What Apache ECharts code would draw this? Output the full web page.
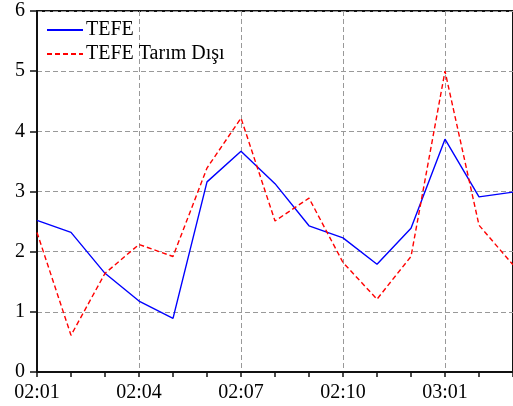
<!DOCTYPE html>
<html><head><meta charset="utf-8">
<script src="https://cdn.jsdelivr.net/npm/echarts@6/dist/echarts.min.js"></script>
<style>html,body{margin:0;padding:0;background:#fff}#c{width:513px;height:406px}</style>
</head><body><div id="c"></div>
<script>
const categories = ['02:01','02:02','02:03','02:04','02:05','02:06','02:07','02:08','02:09','02:10','02:11','02:12','03:01','03:02','03:03'];
const tefe = [2.52,2.32,1.64,1.18,0.89,3.16,3.67,3.13,2.43,2.23,1.79,2.39,3.87,2.91,2.99];
const tefeTarimDisi = [2.32,0.61,1.64,2.12,1.92,3.39,4.22,2.51,2.89,1.82,1.21,1.92,5.00,2.44,1.78];
const yTicks = [0,1,2,3,4,5,6];

const chart = echarts.init(document.getElementById('c'), null, {renderer:'canvas'});
const font = 'Liberation Serif';
chart.setOption({
  animation:false,
  backgroundColor:'#fff',
  grid:{left:37, top:11, right:-2, bottom:34, show:true, borderColor:'#111', borderWidth:2, containLabel:false},
  legend:{
    left:41, top:15, orient:'vertical', itemGap:4, itemWidth:36, itemHeight:20,
    itemStyle:{opacity:0},
    textStyle:{fontFamily:font, fontSize:20, color:'#000', padding:[0,0,0,-2]},
    data:['TEFE','TEFE Tarım Dışı']
  },
  xAxis:{
    type:'category', data:categories, boundaryGap:false,
    axisLine:{lineStyle:{color:'#111', width:2}},
    axisTick:{show:true, inside:false, length:5, interval:0, lineStyle:{color:'#111', width:1.5}},
    axisLabel:{interval:2, margin:11, fontFamily:font, fontSize:20, color:'#000'},
    splitLine:{show:true, interval:2, lineStyle:{color:'#999', type:[5,3], width:1}}
  },
  yAxis:{
    type:'value', min:0, max:6, interval:1,
    axisLine:{show:true, lineStyle:{color:'#111', width:2}},
    axisTick:{show:true, inside:false, length:7, lineStyle:{color:'#111', width:1.5}},
    axisLabel:{margin:12, fontFamily:font, fontSize:20, color:'#000',
      formatter:(v)=> yTicks.includes(v) ? String(v) : ''},
    splitLine:{show:true, lineStyle:{color:'#999', type:[5,3], width:1}}
  },
  series:[
    {name:'TEFE', type:'line', data:tefe, symbol:'none', color:'#0000ff',
     lineStyle:{color:'#0000ff', width:1.4}},
    {name:'TEFE Tarım Dışı', type:'line', data:tefeTarimDisi, symbol:'none', color:'#ff0000',
     lineStyle:{color:'#ff0000', width:1.4, type:[5,3]}}
  ]
});
</script></body></html>
